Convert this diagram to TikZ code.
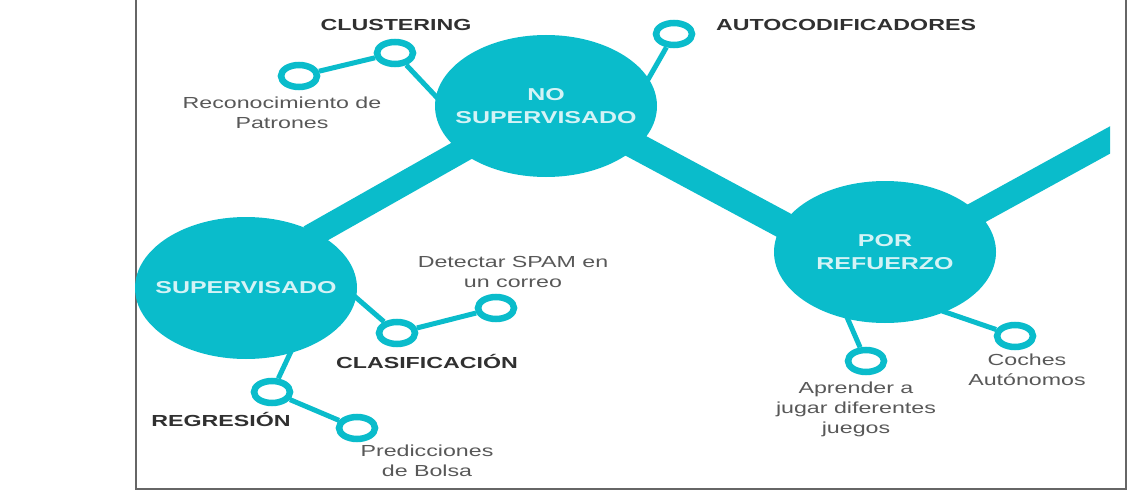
\documentclass[tikz,border=0pt]{standalone}
\usepackage{fontspec}
\setmainfont[FakeStretch=1.45]{Liberation Sans}
\usetikzlibrary{shapes.geometric,backgrounds}
\definecolor{teal1}{HTML}{0ABCCB}
\definecolor{lab}{HTML}{303030}
\definecolor{txt}{HTML}{585858}
\definecolor{lite}{HTML}{D4F3F6}
\definecolor{frm}{HTML}{666666}
\newcommand\zeroline[1]{\makebox[0pt][c]{#1}}
\tikzset{
  big/.style={ellipse,fill=teal1,minimum width=222pt,minimum height=142pt,inner sep=0pt,text=lite,align=center,font=\fontsize{17.2}{23}\selectfont\bfseries},
  ring/.style={ellipse,draw=teal1,fill=white,line width=6.5pt,minimum width=36pt,minimum height=22pt,inner sep=0pt},
  bar/.style={draw=teal1,line width=24pt,shorten <=-8pt,shorten >=-8pt},
  twig/.style={draw=teal1,line width=5pt,shorten <=-3pt},
  head/.style={text=lab,font=\fontsize{16}{20}\selectfont\bfseries,inner sep=0pt},
  body/.style={text=txt,align=center,font=\fontsize{16}{20}\selectfont,inner sep=0pt},
  frameline/.style={draw=frm,line width=2pt}
}
\begin{document}
\begin{tikzpicture}[x=1pt,y=-1pt]
\useasboundingbox (0,0) rectangle (1132,492);
\coordinate (ftl) at (136,0);
\coordinate (fbl) at (136,489);
\coordinate (fbr) at (1126,489);
\coordinate (ftr) at (1126,0);
\draw[frameline] (ftl) -- (fbl) -- (fbr) -- (ftr);
% large circles
\node[big] (nosup) at (546,106) {\zeroline{NO}\\\zeroline{SUPERVISADO}};
\node[big] (sup) at (246,288) {\zeroline{SUPERVISADO}};
\node[big] (por) at (885,252) {\zeroline{POR}\\\zeroline{REFUERZO}};
% rings
\node[ring] (rec) at (299,76) {};
\node[ring] (clu) at (395,53) {};
\node[ring] (aut) at (674,34) {};
\node[ring] (cla) at (397,333) {};
\node[ring] (spa) at (496,308) {};
\node[ring] (reg) at (272,392) {};
\node[ring] (pre) at (357,428) {};
\node[ring] (apr) at (866,361) {};
\node[ring] (coc) at (1015,336) {};
\coordinate (fin) at (1150,118);
% connectors
\begin{pgfonlayer}{background}
\draw[bar] (sup.38) -- (nosup.208);
\draw[bar,line width=27pt] (nosup.-24) -- (por.165);
\begin{scope}
\clip (900,100) rectangle (1110,300);
\draw[bar] (por.23) -- (fin);
\end{scope}
\draw[twig] (nosup.175) -- (clu);
\draw[twig,shorten <=0pt] (clu) -- (rec);
\draw[twig] (nosup.15.5) -- (aut);
\draw[twig] (sup.-5) -- (cla);
\draw[twig,shorten <=0pt] (cla) -- (spa);
\draw[twig] (sup.-56) -- (reg);
\draw[twig,shorten <=0pt] (reg) -- (pre);
\draw[twig] (por.241) -- (apr);
\draw[twig] (por.-45) -- (coc);
\end{pgfonlayer}
% labels
\node[head] (tclu) at (396,25) {CLUSTERING};
\node[body] (trec) at (282,113) {Reconocimiento de\\Patrones};
\node[head] (taut) at (846,25) {AUTOCODIFICADORES};
\node[body] (tspa) at (513,272) {Detectar SPAM en\\un correo};
\node[head] (tcla) at (427,361) {CLASIFICACIÓN};
\node[head] (treg) at (221,419) {REGRESIÓN};
\node[body] (tpre) at (427,461) {Predicciones\\de Bolsa};
\node[body] (tapr) at (856,409) {Aprender a\\jugar diferentes\\juegos};
\node[body] (tcoc) at (1027,370) {Coches\\Autónomos};
\end{tikzpicture}
\end{document}
